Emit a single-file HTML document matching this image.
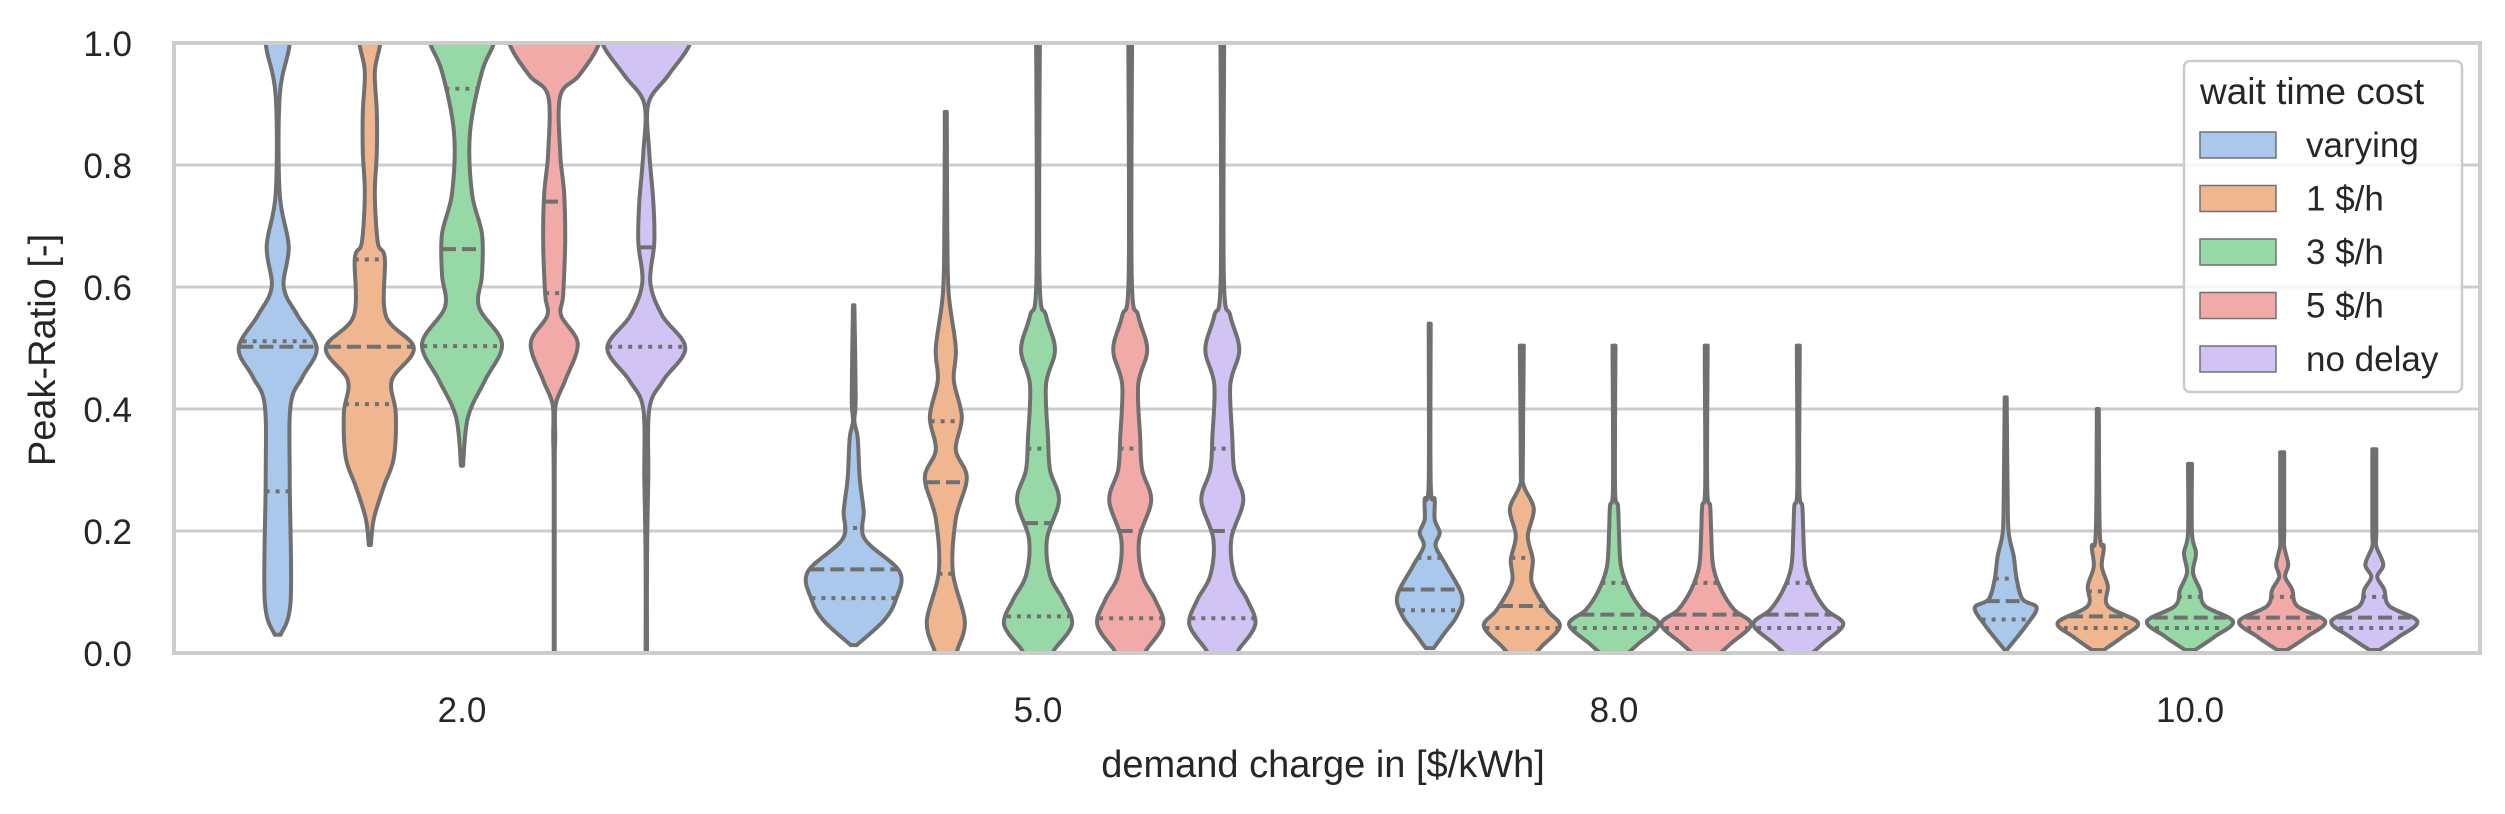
<!DOCTYPE html>
<html>
<head>
<meta charset="utf-8">
<style>
html,body{margin:0;padding:0;background:#fff;}
svg{display:block;}
text{font-family:"Liberation Sans",Arial,sans-serif;fill:#262626;}
</style>
</head>
<body>
<svg id="chart" width="2505" height="814" viewBox="0 0 2505 814" xmlns="http://www.w3.org/2000/svg">
<defs><clipPath id="plotclip"><rect x="174" y="43" width="2306" height="610"/></clipPath></defs>
<g id="grid"></g>
<g id="violins" clip-path="url(#plotclip)"></g>
<rect x="174" y="43" width="2306" height="610" fill="none" stroke="#cccccc" stroke-width="4"/>
<g id="yticks"></g>
<g id="xticks"></g>
<text x="57" y="350" font-size="38" text-anchor="middle" transform="rotate(-90 57 350)" dy="-2">Peak-Ratio [-]</text>
<text x="1323" y="777" font-size="38" text-anchor="middle">demand charge in [$/kWh]</text>
<g id="legend"></g>
</svg>
<script>
const categories = ["2.0", "5.0", "8.0", "10.0"];
const hues = ["varying", "1 $/h", "3 $/h", "5 $/h", "no delay"];
const yTicks = [0, 0.2, 0.4, 0.6, 0.8, 1.0];
const yTickLabels = ["0.0", "0.2", "0.4", "0.6", "0.8", "1.0"];
const colors = ["#aac8eb", "#f0b68f", "#97d9a6", "#f1aaa8", "#d1c3f4"];

const profileValues = [
  [
    [0.03,0.087,0.287,0.407,0.453,0.5,0.553,0.6,0.667,0.753,0.913,0.993,1.05],
    [0.177,0.22,0.273,0.32,0.393,0.447,0.5,0.553,0.647,0.673,0.753,0.82,0.887,0.953,1.0,1.05],
    [0.307,0.387,0.447,0.507,0.567,0.62,0.687,0.753,0.853,0.953,1.0,1.05],
    [0,0.287,0.353,0.407,0.447,0.507,0.553,0.587,0.673,0.753,0.82,0.913,0.947,1.0,1.05],
    [0,0.153,0.287,0.4,0.447,0.5,0.553,0.607,0.673,0.74,0.82,0.9,0.947,1.0,1.05]
  ],
  [
    [0.013,0.053,0.087,0.133,0.187,0.233,0.287,0.353,0.38,0.42,0.57],
    [0,0.007,0.053,0.133,0.22,0.287,0.333,0.387,0.447,0.5,0.587,0.687,0.887],
    [0,0.007,0.047,0.087,0.127,0.187,0.25,0.3,0.353,0.44,0.497,0.553,0.62,1.05],
    [0,0.007,0.047,0.087,0.127,0.187,0.25,0.3,0.353,0.44,0.497,0.553,0.62,1.05],
    [0,0.007,0.047,0.087,0.127,0.187,0.25,0.3,0.353,0.44,0.497,0.553,0.62,1.05]
  ],
  [
    [0.008,0.033,0.06,0.093,0.142,0.175,0.197,0.219,0.252,0.279,0.54],
    [0,0.011,0.044,0.071,0.115,0.153,0.192,0.236,0.274,0.307,0.504],
    [0,0.016,0.047,0.071,0.104,0.142,0.197,0.241,0.274,0.504],
    [0,0.016,0.047,0.071,0.104,0.142,0.197,0.241,0.274,0.504],
    [0,0.016,0.047,0.071,0.104,0.142,0.197,0.241,0.274,0.504]
  ],
  [
    [0.005,0.044,0.074,0.088,0.121,0.159,0.197,0.252,0.419],
    [0.005,0.027,0.05,0.077,0.11,0.142,0.175,0.197,0.4],
    [0.005,0.027,0.052,0.077,0.104,0.132,0.164,0.197,0.31],
    [0.005,0.027,0.052,0.077,0.104,0.125,0.145,0.175,0.2,0.329],
    [0.005,0.027,0.052,0.077,0.104,0.125,0.145,0.175,0.2,0.334]
  ]
];
const profileDensity = [
  [
    [3,13,12,13,25,39,20,6,11,2,2,11.5,14],
    [1,4,14,24,26,22,44,16,15,8,5,7,7,5,10.5,12],
    [1,6,23,40,17,20,20,10,8,20,32,38],
    [0.5,0.5,1,1.5,11,23.5,7,9,11,10,6,6,25,45,46],
    [0.7,0.7,2,3,17,39,16,4,8,7,3,2,22,44,46]
  ],
  [
    [3,30,42,46,11,10,6,4,0.7,2,0.7],
    [10,12,19,7,10,21,10,16,8,10,3,1.5,1],
    [15,17,34,25,12,9,21,12,10,8,17,8,1.5,2],
    [15,17,33,25,12,9,21,12,10,8,17,8,1.5,2],
    [15,17,33,25,12,9,21,12,10,8,17,8,1.5,2]
  ],
  [
    [4,15,27,32.5,17,6,10,5,5,1,1],
    [14,20,38,25,10,11,6,12,2,1,2],
    [14,25,45,28,15,7,5,4,1,1.5],
    [14,25,45,28,15,7,5,4,1,1.5],
    [14,25,45,28,15,7,5,4,1,1.5]
  ],
  [
    [1,20,31,17,11,8,3,2,1],
    [6,25,40,10,10,4,6,2,1],
    [5,25,43,15,10,3,6,2,2],
    [5,25,43,15,10,3,6,2,2,2],
    [5,25,43,15,10,3,9,2,2,2]
  ]
];
const q1 = [[0.265,0.408,0.503,0.59,0.502],[0.09,0.13,0.06,0.057,0.057],[0.07,0.041,0.041,0.041,0.041],[0.055,0.041,0.041,0.041,0.041]];
const medians = [[0.502,0.502,0.662,0.74,0.665],[0.137,0.28,0.213,0.2,0.2],[0.104,0.077,0.063,0.063,0.063],[0.085,0.06,0.058,0.058,0.058]];
const q3 = [[0.511,0.645,0.925,1.2,1.2],[0.205,0.38,0.335,0.335,0.335],[0.156,0.156,0.115,0.115,0.115],[0.122,0.101,0.092,0.092,0.092]];

const NS = "http://www.w3.org/2000/svg";
const plotL = 174, plotR = 2478, plotT = 43, plotB = 653;
const yScale = v => plotB - (v - 0) / (1 - 0) * (plotB - plotT);
const band = (plotR - plotL) / categories.length;
const hueStep = band * 0.8 / hues.length;
const xScale = (ci, hi) => plotL + band * (ci + 0.5) + (hi - (hues.length - 1) / 2) * hueStep;
const densityToPx = 1;

function mk(tag, attrs, parent) {
  const e = document.createElementNS(NS, tag);
  for (const k in attrs) e.setAttribute(k, attrs[k]);
  parent.appendChild(e);
  return e;
}
function spline(pts) {
  let d = "";
  for (let i = 0; i < pts.length - 1; i++) {
    const p0 = pts[Math.max(i - 1, 0)], p1 = pts[i], p2 = pts[i + 1], p3 = pts[Math.min(i + 2, pts.length - 1)];
    const c1x = p1[0] + (p2[0] - p0[0]) / 6, c1y = p1[1] + (p2[1] - p0[1]) / 6;
    const c2x = p2[0] - (p3[0] - p1[0]) / 6, c2y = p2[1] - (p3[1] - p1[1]) / 6;
    d += ` C${c1x.toFixed(1)},${c1y.toFixed(1)} ${c2x.toFixed(1)},${c2y.toFixed(1)} ${p2[0].toFixed(1)},${p2[1].toFixed(1)}`;
  }
  return d;
}
function widthAt(vals, dens, v) {
  if (v <= vals[0]) return dens[0];
  for (let i = 0; i < vals.length - 1; i++) {
    if (v >= vals[i] && v <= vals[i + 1]) {
      const t = (v - vals[i]) / (vals[i + 1] - vals[i]);
      return dens[i] + t * (dens[i + 1] - dens[i]);
    }
  }
  return dens[dens.length - 1];
}

const grid = document.getElementById("grid");
yTicks.forEach((t, i) => {
  const ln = mk("line", {x1: plotL, x2: plotR + 2, y1: yScale(t), y2: yScale(t), stroke: "#cccccc", "stroke-width": 3}, grid);
  
  
});
const yg = document.getElementById("yticks");
yTicks.forEach((t, i) => {
  const tx = mk("text", {x: 132, y: yScale(t) + 13, "font-size": 35, "text-anchor": "end"}, yg);
  tx.textContent = yTickLabels[i];
  
  
});
const xg = document.getElementById("xticks");
categories.forEach((c, ci) => {
  const tx = mk("text", {x: plotL + band * (ci + 0.5), y: 722, "font-size": 35, "text-anchor": "middle"}, xg);
  tx.textContent = c;
  
  
});

const vg = document.getElementById("violins");
categories.forEach((c, ci) => {
  hues.forEach((h, hi) => {
    const vals = profileValues[ci][hi], dens = profileDensity[ci][hi];
    const cx = xScale(ci, hi);
    const left = vals.map((v, k) => [cx - dens[k] * densityToPx, yScale(v)]);
    const right = vals.map((v, k) => [cx + dens[k] * densityToPx, yScale(v)]).reverse();
    let d = `M${left[0][0].toFixed(1)},${left[0][1].toFixed(1)}` + spline(left) +
      ` L${right[0][0].toFixed(1)},${right[0][1].toFixed(1)}` + spline(right) + " Z";
    const p = mk("path", {d: d, fill: colors[hi], stroke: "#707070", "stroke-width": 4, "stroke-linejoin": "round"}, vg);
    
    
    const lines = [[q1[ci][hi], "4,6"], [medians[ci][hi], "14,6"], [q3[ci][hi], "4,6"]];
    lines.forEach(([v, dash], li) => {
      if (v > 1) return;
      const w = widthAt(vals, dens, v) * densityToPx;
      const ln = mk("line", {x1: cx - w, x2: cx + w, y1: yScale(v), y2: yScale(v), stroke: "#707070", "stroke-width": 4, "stroke-dasharray": dash}, vg);
      
      
    });
  });
});

const lg = document.getElementById("legend");
const box = mk("rect", {x: 2184, y: 61, width: 278, height: 331, rx: 6, fill: "#ffffff", "fill-opacity": 0.8, stroke: "#cccccc", "stroke-width": 2.5}, lg);


const lt = mk("text", {x: 2200, y: 104, "font-size": 37}, lg);
lt.textContent = "wait time cost";


hues.forEach((h, hi) => {
  const cy = 145 + hi * 53.5;
  const r = mk("rect", {x: 2200, y: cy - 13, width: 76, height: 26, fill: colors[hi], stroke: "#707070", "stroke-width": 1.5}, lg);
  
  
  const t = mk("text", {x: 2306, y: cy + 12, "font-size": 35}, lg);
  t.textContent = h;
  
  
});
</script>
</body>
</html>
